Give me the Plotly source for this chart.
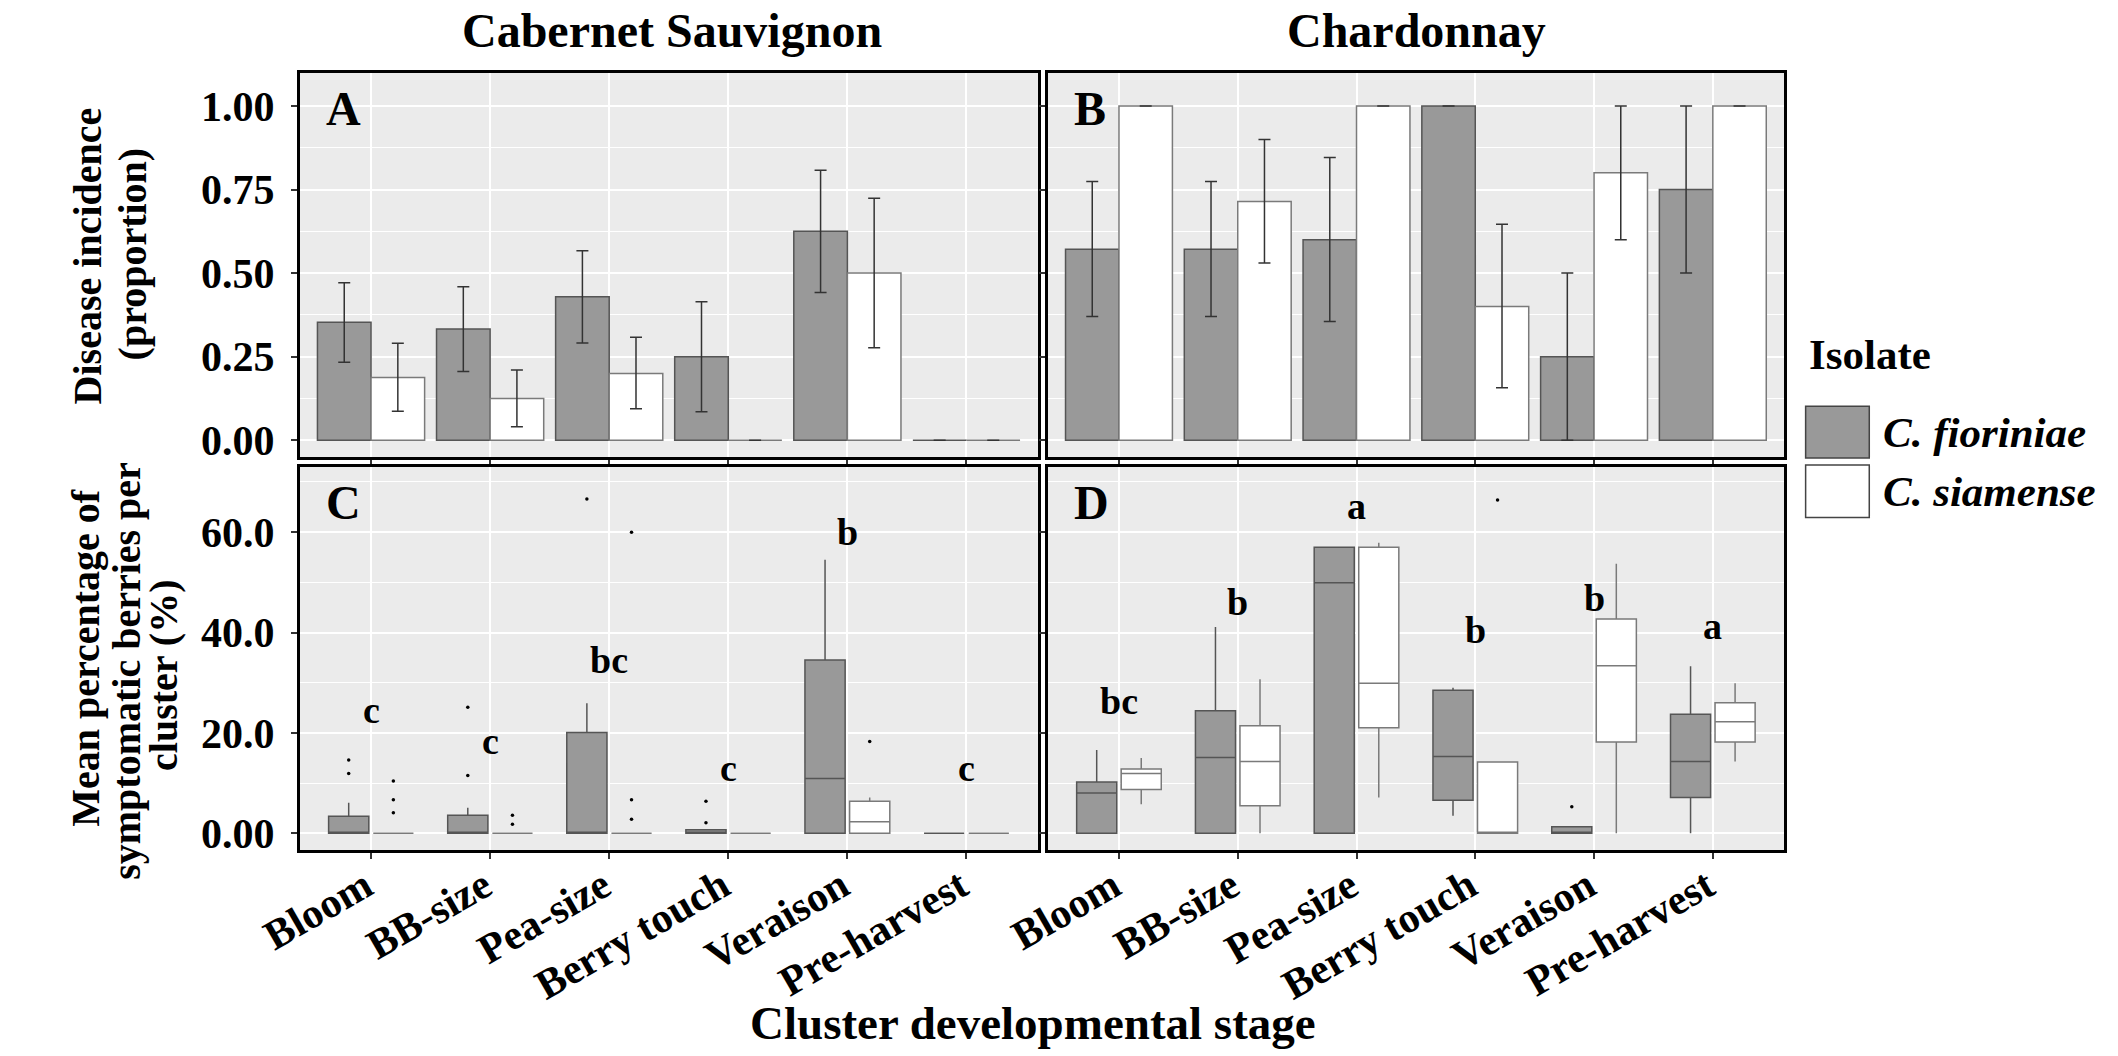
import plotly.graph_objects as go

W, H = 2118, 1056
FONT = "Liberation Serif"

stages = ["Bloom", "BB-size", "Pea-size", "Berry touch", "Veraison", "Pre-harvest"]
isolates = ["C. fioriniae", "C. siamense"]

# Disease incidence (proportion) with confidence limits - Cabernet Sauvignon
cs_inc_fio = [0.353, 0.333, 0.429, 0.25, 0.625, 0.0]
cs_inc_fio_lo = [0.233, 0.206, 0.291, 0.085, 0.442, None]
cs_inc_fio_hi = [0.471, 0.459, 0.567, 0.414, 0.808, None]
cs_inc_sia = [0.1875, 0.125, 0.2, 0.0, 0.5, 0.0]
cs_inc_sia_lo = [0.087, 0.040, 0.094, None, 0.277, None]
cs_inc_sia_hi = [0.290, 0.210, 0.308, None, 0.724, None]

# Disease incidence (proportion) with confidence limits - Chardonnay
ch_inc_fio = [0.571, 0.571, 0.6, 1.0, 0.25, 0.75]
ch_inc_fio_lo = [0.370, 0.370, 0.355, None, 0.0, 0.5]
ch_inc_fio_hi = [0.774, 0.774, 0.846, None, 0.5, 1.0]
ch_inc_sia = [1.0, 0.714, 1.0, 0.4, 0.8, 1.0]
ch_inc_sia_lo = [None, 0.530, None, 0.157, 0.6, None]
ch_inc_sia_hi = [None, 0.900, None, 0.646, 1.0, None]

# Percentage of symptomatic berries per cluster - Cabernet Sauvignon (box summaries)
cs_fio_q1 = [0, 0, 0, 0, 0, 0]
cs_fio_med = [0, 0, 0, 0, 10.9, 0]
cs_fio_q3 = [3.4, 3.6, 20.1, 0.7, 34.5, 0]
cs_fio_lowf = [0, 0, 0, 0, 0, 0]
cs_fio_upf = [6.1, 5.1, 25.9, 0.7, 54.5, 0]
cs_sia_q1 = [0, 0, 0, 0, 0, 0]
cs_sia_med = [0, 0, 0, 0, 2.3, 0]
cs_sia_q3 = [0, 0, 0, 0, 6.4, 0]
cs_sia_lowf = [0, 0, 0, 0, 0, 0]
cs_sia_upf = [0, 0, 0, 0, 7.1, 0]
cs_out_fio_stage = ["Bloom", "Bloom", "BB-size", "BB-size", "Pea-size", "Berry touch", "Berry touch"]
cs_out_fio_val = [14.6, 11.9, 25.1, 11.5, 66.6, 6.4, 2.1]
cs_out_sia_stage = ["Bloom", "Bloom", "Bloom", "BB-size", "BB-size", "Pea-size", "Pea-size", "Pea-size", "Veraison"]
cs_out_sia_val = [10.4, 6.7, 4.1, 3.6, 1.8, 60.0, 6.7, 2.8, 18.3]
cs_letters = ["c", "c", "bc", "c", "b", "c"]
cs_letter_y = [24.6, 18.3, 34.5, 13.0, 60.0, 13.0]

# Percentage of symptomatic berries per cluster - Chardonnay (box summaries)
ch_fio_q1 = [0, 0, 0, 6.6, 0, 7.1]
ch_fio_med = [8.0, 15.1, 49.9, 15.3, 0, 14.3]
ch_fio_q3 = [10.2, 24.4, 57.0, 28.5, 1.3, 23.7]
ch_fio_lowf = [0, 0, 0, 3.5, 0, 0]
ch_fio_upf = [16.6, 41.1, 57.0, 29.0, 1.3, 33.3]
ch_sia_q1 = [8.7, 5.5, 21.0, 0, 18.2, 18.2]
ch_sia_med = [11.9, 14.3, 29.9, 0, 33.4, 22.2]
ch_sia_q3 = [12.8, 21.4, 57.0, 14.2, 42.7, 26.0]
ch_sia_lowf = [5.8, 0, 7.1, 0, 0, 14.3]
ch_sia_upf = [15.0, 30.7, 57.9, 14.2, 53.7, 29.9]
ch_out_fio_stage = ["Veraison"]
ch_out_fio_val = [5.3]
ch_out_sia_stage = ["Berry touch"]
ch_out_sia_val = [66.4]
ch_letters = ["bc", "b", "a", "b", "b", "a"]
ch_letter_y = [26.4, 46.1, 65.3, 40.5, 46.8, 41.2]

inc_ticks = [0, 0.25, 0.5, 0.75, 1.0]
inc_ticktext = ["0.00", "0.25", "0.50", "0.75", "1.00"]
pct_ticks = [0, 20, 40, 60]
pct_ticktext = ["0.00", "20.0", "40.0", "60.0"]

FIO_FILL = "#999999"
SIA_FILL = "#FFFFFF"
FIO_EDGE = "#555555"
SIA_EDGE = "#7a7a7a"
BG = "#EBEBEB"


def px_x(p):
    return p / W


def px_y(p):
    return 1 - p / H


# panel rectangles in pixels: (left, right), (top, bottom)
panels = {
    "A": ((261, 1015), (73, 460)),
    "B": ((1025, 1777), (73, 460)),
    "C": ((261, 1015), (470, 856)),
    "D": ((1025, 1777), (470, 856)),
}
axis_ids = {"A": ("x", "y"), "B": ("x2", "y2"), "C": ("x3", "y3"), "D": ("x4", "y4")}


def err(vals, lo, hi):
    plus = [None if h is None else h - v for v, h in zip(vals, hi)]
    minus = [None if l is None else v - l for v, l in zip(vals, lo)]
    return dict(type="data", symmetric=False, array=plus, arrayminus=minus,
                color="#333333", thickness=1.5, width=6)


fig = go.Figure()

# incidence bars
for key, data in (
    ("A", ((cs_inc_fio, cs_inc_fio_lo, cs_inc_fio_hi), (cs_inc_sia, cs_inc_sia_lo, cs_inc_sia_hi))),
    ("B", ((ch_inc_fio, ch_inc_fio_lo, ch_inc_fio_hi), (ch_inc_sia, ch_inc_sia_lo, ch_inc_sia_hi))),
):
    xa, ya = axis_ids[key]
    for (vals, lo, hi), name, fill, edge in zip(data, isolates, (FIO_FILL, SIA_FILL), (FIO_EDGE, SIA_EDGE)):
        fig.add_trace(go.Bar(
            x=stages, y=vals, name=name, xaxis=xa, yaxis=ya, offsetgroup=name,
            marker=dict(color=fill, line=dict(color=edge, width=1.5)),
            error_y=err(vals, lo, hi), showlegend=False,
        ))

# symptomatic berries boxes
box_sets = {
    "C": ((cs_fio_q1, cs_fio_med, cs_fio_q3, cs_fio_lowf, cs_fio_upf),
          (cs_sia_q1, cs_sia_med, cs_sia_q3, cs_sia_lowf, cs_sia_upf)),
    "D": ((ch_fio_q1, ch_fio_med, ch_fio_q3, ch_fio_lowf, ch_fio_upf),
          (ch_sia_q1, ch_sia_med, ch_sia_q3, ch_sia_lowf, ch_sia_upf)),
}
outlier_sets = {
    "C": ((cs_out_fio_stage, cs_out_fio_val), (cs_out_sia_stage, cs_out_sia_val)),
    "D": ((ch_out_fio_stage, ch_out_fio_val), (ch_out_sia_stage, ch_out_sia_val)),
}
for key in ("C", "D"):
    xa, ya = axis_ids[key]
    for (q1, med, q3, lf, uf), name, fill, edge in zip(box_sets[key], isolates,
                                                         (FIO_FILL, SIA_FILL), (FIO_EDGE, SIA_EDGE)):
        fig.add_trace(go.Box(
            x=stages, q1=q1, median=med, q3=q3, lowerfence=lf, upperfence=uf,
            name=name, xaxis=xa, yaxis=ya, offsetgroup=name,
            fillcolor=fill, line=dict(color=edge, width=1.5), whiskerwidth=0,
            boxpoints=False, showlegend=False,
        ))
    for (st, vals), name in zip(outlier_sets[key], isolates):
        fig.add_trace(go.Scatter(
            x=st, y=vals, mode="markers", name=name, xaxis=xa, yaxis=ya, offsetgroup=name,
            marker=dict(color="black", size=3.5), showlegend=False,
        ))

tick_font = dict(family=FONT, size=42, color="black", weight="bold")
layout = dict(
    width=W, height=H, margin=dict(l=0, r=0, t=0, b=0),
    paper_bgcolor="white", plot_bgcolor=BG,
    barmode="group", bargap=0.1, bargroupgap=0,
    boxmode="group", boxgap=0.25, boxgroupgap=0.1,
    scattermode="group", scattergap=0.25,
    showlegend=False,
)

for key, ((l, r), (t, b)) in panels.items():
    xa, ya = axis_ids[key]
    xname = "xaxis" + xa[1:]
    yname = "yaxis" + ya[1:]
    lower = key in ("C", "D")
    layout[xname] = dict(
        domain=[px_x(l), px_x(r)], anchor=ya, type="category",
        categoryorder="array", categoryarray=stages, range=[-0.6, 5.6],
        showgrid=True, gridcolor="white", gridwidth=1.5, zeroline=False,
        ticks="outside", ticklen=6, tickwidth=1.5, tickcolor="#333333",
        showline=True, linecolor="black", linewidth=2.5, mirror=True,
        showticklabels=lower, tickangle=-30, tickfont=tick_font,
        ticklabelstandoff=-14, ticklabelshift=-6,
    )
    layout[yname] = dict(
        domain=[px_y(b), px_y(t)], anchor=xa,
        range=[-3.4, 73.0] if lower else [-0.05, 1.10],
        tickmode="array",
        tickvals=pct_ticks if lower else inc_ticks,
        ticktext=pct_ticktext if lower else inc_ticktext,
        showgrid=True, gridcolor="white", gridwidth=1.5, zeroline=False,
        minor=dict(tick0=0, dtick=10 if lower else 0.125, showgrid=True,
                   gridcolor="white", gridwidth=1, ticks=""),
        ticks="outside", ticklen=6, tickwidth=1.5, tickcolor="#333333",
        showline=True, linecolor="black", linewidth=2.5, mirror=True,
        showticklabels=key in ("A", "C"), tickfont=tick_font, ticklabelstandoff=8,
    )

annotations = []


def note(text, x, y, size, xanchor="center", yanchor="middle", angle=0, style="normal"):
    annotations.append(dict(
        text=text, x=x, y=y, xref="paper", yref="paper", showarrow=False,
        xanchor=xanchor, yanchor=yanchor, textangle=angle,
        font=dict(family=FONT, size=size, color="black", weight="bold", style=style),
    ))


# column headings
note("Cabernet Sauvignon", px_x(641), px_y(31), 48)
note("Chardonnay", px_x(1402), px_y(31), 48)

# panel letters
for key, ((l, r), (t, b)) in panels.items():
    note(key, px_x(l + 25), px_y(t + 36), 48, xanchor="left")

# axis titles
note("Disease incidence", px_x(44), px_y(258), 40, angle=-90)
note("(proportion)", px_x(90), px_y(256), 40, angle=-90)
note("Mean percentage of", px_x(42), px_y(662), 40, angle=-90)
note("symptomatic berries per", px_x(84), px_y(675), 40, angle=-90)
note("cluster (%)", px_x(122), px_y(680), 40, angle=-90)
note("Cluster developmental stage", px_x(1010), px_y(1030), 47)

# significance letters over the box groups
for key, letters, ys in (("C", cs_letters, cs_letter_y), ("D", ch_letters, ch_letter_y)):
    xa, ya = axis_ids[key]
    for st, lab, yv in zip(stages, letters, ys):
        annotations.append(dict(
            text=lab, x=st, y=yv, xref=xa, yref=ya, showarrow=False,
            xanchor="center", yanchor="middle",
            font=dict(family=FONT, size=38, color="black", weight="bold"),
        ))

# legend
note("Isolate", px_x(1800), px_y(357), 43, xanchor="left")
shapes = []
for (top, bot), name, fill in zip(((409, 461), (468, 521)), isolates, (FIO_FILL, SIA_FILL)):
    shapes.append(dict(type="rect", xref="paper", yref="paper",
                       x0=px_x(1799), x1=px_x(1864), y0=px_y(bot), y1=px_y(top),
                       fillcolor=fill, line=dict(color="#444444", width=1.5)))
    note(name, px_x(1876), px_y((top + bot) / 2), 43, xanchor="left", style="italic")

layout["annotations"] = annotations
layout["shapes"] = shapes
fig.update_layout(**layout)

fig.write_html("out.html")
